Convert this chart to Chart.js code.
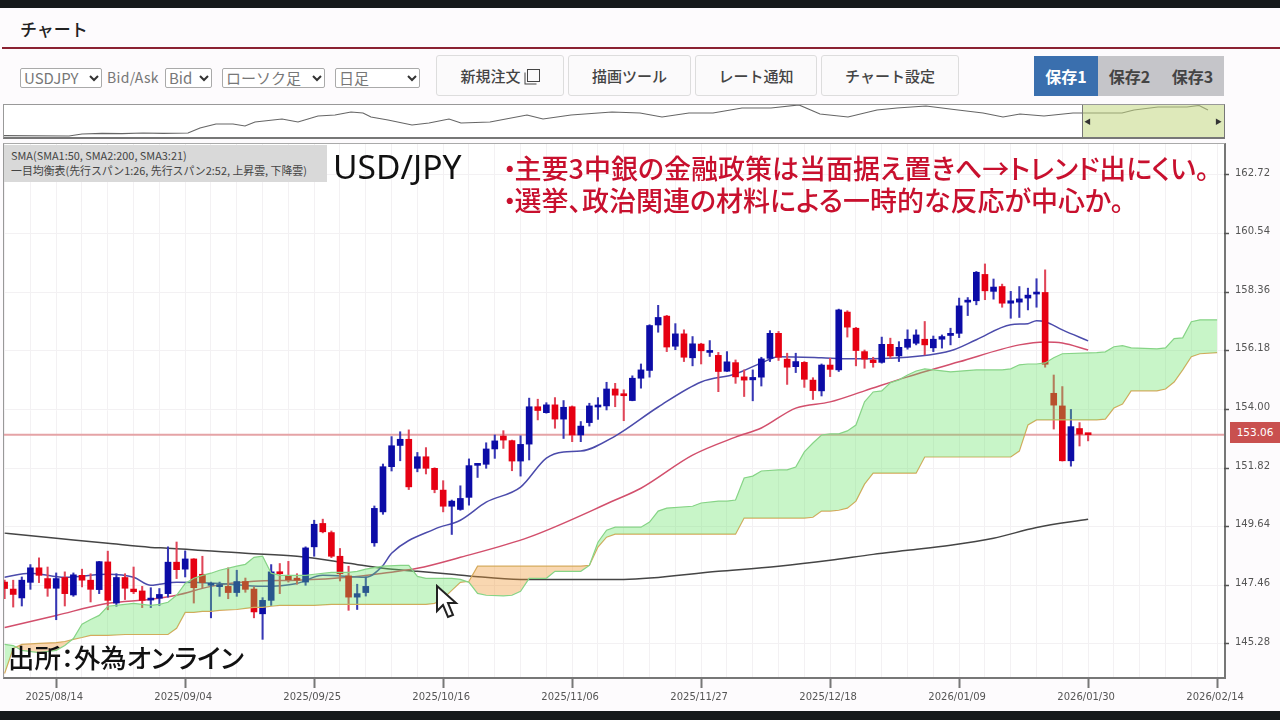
<!DOCTYPE html>
<html>
<head>
    <title>チャート USD/JPY</title>
    <script src="https://cdn.jsdelivr.net/npm/chart.js"></script>
    <style>
        html, body {
            margin: 0;
            padding: 0;
            width: 1280px;
            height: 720px;
            overflow: hidden;
            background-color: #fdfbfd;
            font-family: "Noto Sans CJK JP", "Noto Sans", sans-serif;
        }
        .abs { position: absolute; }
        .topbar { left: 0; top: 0; width: 1280px; height: 8px; background-color: #16191b; }
        .bottombar { left: 0; top: 711px; width: 1280px; height: 9px; background-color: #16191b; }
        .heading { left: 20px; top: 17px; font-size: 17px; font-weight: 500; line-height: 24px; color: #222; }
        .rule { left: 2px; top: 47px; width: 1278px; height: 2px; background-color: #8b2232; }
        .sel {
            top: 68px;
            height: 18px;
            padding-left: 3px;
            box-sizing: content-box;
            font-size: 15px;
            line-height: 18px;
            color: #777;
            background-color: #fff;
            border: 1px solid #aaa;
            border-radius: 2px;
            white-space: nowrap;
        }
        .sel svg { position: absolute; top: 5px; }
        .bidask { left: 107px; top: 68px; font-size: 14px; line-height: 19px; letter-spacing: 0.3px; color: #777; }
        .btn {
            top: 55px;
            height: 39px;
            line-height: 39px;
            text-align: center;
            font-size: 15px;
            font-weight: 500;
            color: #444;
            background-color: #fbfafb;
            border: 1px solid #ddd;
            border-radius: 3px;
        }
        .icon {
            display: inline-block;
            width: 11px;
            height: 11px;
            margin-left: 6px;
            border: 1.5px solid #444;
            box-shadow: -2px 2px 0 -0.5px #fbfafb, -3px 3px 0 -0.5px #444;
        }
        .save {
            top: 56px;
            width: 63px;
            height: 40px;
            line-height: 40px;
            text-align: center;
            font-size: 16px;
            font-weight: 700;
            color: #444;
            background-color: #c5c5c9;
        }
        .save.on { width: 64px; color: #fff; background-color: #3a6fae; }
        .miniframe {
            left: 3px;
            top: 104px;
            width: 1220px;
            height: 32px;
            background-color: #fff;
            border-top: 1px solid #999;
            border-left: 1px solid #999;
            border-right: 1px solid #777;
            border-bottom: 2px solid #777;
        }
        .range {
            left: 1082px;
            top: 105px;
            width: 142px;
            height: 32px;
            background-color: rgba(195, 215, 130, 0.55);
            border-left: 1px solid #777;
            box-sizing: border-box;
            font-size: 7px;
            line-height: 32px;
            color: #333;
        }
        .range span { position: absolute; top: 0; }
        .frame {
            left: 3px;
            top: 143px;
            width: 1220px;
            height: 533px;
            background-color: #fff;
            border-top: 1px solid #aaa;
            border-left: 1px solid #999;
            border-right: 2px solid #777;
            border-bottom: 2px solid #777;
        }
        canvas { position: absolute; }
        .legendbox {
            left: 4px;
            top: 145px;
            width: 323px;
            height: 37px;
            background-color: #d9d9d9;
            color: #444;
            font-size: 10.9px;
            line-height: 15px;
            padding-top: 3px;
            box-sizing: border-box;
        }
        .legendbox div { padding-left: 7px; white-space: nowrap; }
        .pair { left: 333px; top: 143px; font-family: "Noto Sans", sans-serif; font-size: 33.6px; line-height: 46px; color: #111; }
        .note {
            left: 503px;
            font-size: 27px;
            font-weight: 500;
            line-height: 32px;
            color: #c8102e;
            white-space: nowrap;
            font-feature-settings: "palt";
        }
        .source {
            left: 8px;
            top: 640px;
            font-size: 26.4px;
            font-weight: 500;
            line-height: 34px;
            color: #111;
            white-space: nowrap;
            font-feature-settings: "palt";
        }
        .badge {
            left: 1230px;
            top: 422px;
            width: 50px;
            height: 21px;
            line-height: 21px;
            text-align: center;
            font-family: "DejaVu Sans", sans-serif;
            font-size: 10.5px;
            color: #fff;
            background-color: #c9504f;
        }
    </style>
</head>
<body>
    <div class="abs topbar"></div>
    <div class="abs heading">チャート</div>
    <div class="abs rule"></div>

    <div class="abs sel" style="left:20px;width:77px">USDJPY<svg style="left:68px" width="10" height="8"><polyline points="1,2 5,6 9,2" fill="none" stroke="#333" stroke-width="2"></polyline></svg></div>
    <div class="abs bidask">Bid/Ask</div>
    <div class="abs sel" style="left:165px;width:42px">Bid<svg style="left:33px" width="10" height="8"><polyline points="1,2 5,6 9,2" fill="none" stroke="#333" stroke-width="2"></polyline></svg></div>
    <div class="abs sel" style="left:222px;width:98px">ローソク足<svg style="left:89px" width="10" height="8"><polyline points="1,2 5,6 9,2" fill="none" stroke="#333" stroke-width="2"></polyline></svg></div>
    <div class="abs sel" style="left:335px;width:80px">日足<svg style="left:71px" width="10" height="8"><polyline points="1,2 5,6 9,2" fill="none" stroke="#333" stroke-width="2"></polyline></svg></div>

    <div class="abs btn" style="left:436px;width:126px">新規注文<span class="icon"></span></div>
    <div class="abs btn" style="left:568px;width:121px">描画ツール</div>
    <div class="abs btn" style="left:695px;width:120px">レート通知</div>
    <div class="abs btn" style="left:821px;width:136px">チャート設定</div>

    <div class="abs save on" style="left:1034px">保存1</div>
    <div class="abs save" style="left:1098px">保存2</div>
    <div class="abs save" style="left:1161px">保存3</div>

    <div class="abs miniframe"></div>
    <canvas id="miniChart" width="1220" height="32" style="left:4px;top:105px"></canvas>
    <div class="abs range"><span style="left:1px">◀</span><span style="right:2px">▶</span></div>

    <div class="abs frame"></div>
    <canvas id="mainChart" width="1276" height="559" style="left:4px;top:144px"></canvas>

    <div class="abs legendbox">
        <div>SMA(SMA1:50, SMA2:200, SMA3:21)</div>
        <div>一目均衡表(先行スパン1:26, 先行スパン2:52, 上昇雲, 下降雲)</div>
    </div>
    <div class="abs pair">USD/JPY</div>
    <div class="abs note" style="top:152px"><span style="letter-spacing:-2px">・</span>主要3中銀の金融政策は当面据え置きへ→トレンド出にくい。</div>
    <div class="abs note" style="top:184px"><span style="letter-spacing:-2px">・</span>選挙、政治関連の材料による一時的な反応が中心か。</div>
    <div class="abs source">出所：外為オンライン</div>
    <div class="abs badge">153.06</div>

    <svg class="abs" style="left:434px;top:584px" width="26" height="36">
        <polygon points="3,2 3,27 9,21 14,33 19,31 14,19 22,19" fill="#fff" stroke="#222" stroke-width="2"></polygon>
    </svg>

    <div class="abs bottombar"></div>

    <script>
        // Daily candles, one entry per bar, oldest first
        const opens = [
            147.58, 147.32, 146.99, 147.57, 148.11, 147.71, 147.35, 147.75, 147.10, 147.83,
            147.65, 147.30, 148.33, 146.80, 147.75, 147.32, 147.25, 146.91, 146.98, 147.15,
            148.32, 148.06, 148.44, 147.87, 147.46, 147.41, 147.42, 147.19, 147.60, 147.32,
            146.40, 146.90, 147.93, 147.83, 147.68, 147.58, 148.89, 149.76, 149.42, 148.54,
            147.81, 147.02, 147.19, 149.04, 150.19, 151.87, 152.66, 152.89, 151.81, 152.24,
            151.81, 151.00, 150.40, 150.28, 150.73, 151.92, 151.96, 152.53, 153.01, 152.84,
            152.08, 152.71, 154.10, 153.88, 154.17, 153.64, 154.10, 153.05, 153.51, 154.09,
            154.13, 154.76, 154.55, 154.33, 155.16, 155.45, 157.14, 157.47, 156.35, 156.81,
            155.92, 156.43, 156.12, 156.01, 155.42, 155.74, 155.21, 155.10, 155.20, 155.90,
            156.83, 155.87, 155.59, 155.75, 155.09, 154.69, 155.65, 155.47, 157.62, 157.02,
            156.15, 155.84, 155.75, 156.42, 155.99, 156.31, 156.46, 156.61, 156.29, 156.61,
            156.75, 156.83, 157.99, 158.04, 159.02, 158.39, 158.57, 157.95, 157.99, 158.14,
            158.29, 158.35, 154.60, 154.13, 152.09, 153.29, 153.08
        ];
        const highs = [
            147.65, 147.65, 147.77, 148.23, 148.48, 148.14, 147.92, 147.96, 147.92, 148.06,
            147.89, 148.35, 148.73, 147.89, 147.89, 148.14, 147.42, 147.37, 147.34, 148.89,
            149.07, 148.74, 148.45, 148.54, 147.58, 147.58, 148.11, 148.02, 147.73, 147.40,
            147.00, 148.23, 148.27, 148.35, 147.89, 148.89, 149.88, 149.92, 149.48, 148.83,
            148.17, 147.50, 147.77, 150.41, 151.97, 152.99, 153.17, 153.24, 152.40, 152.58,
            151.83, 151.35, 150.63, 151.16, 152.16, 151.99, 152.76, 153.05, 153.21, 152.86,
            153.02, 154.42, 154.38, 154.25, 154.44, 154.33, 154.13, 153.55, 154.23, 154.44,
            155.01, 154.97, 154.73, 155.25, 155.69, 157.15, 157.87, 157.50, 157.19, 156.96,
            156.71, 156.46, 156.56, 156.12, 156.15, 155.84, 155.47, 155.47, 155.94, 156.93,
            156.90, 156.09, 156.09, 155.78, 155.18, 155.69, 155.90, 157.73, 157.67, 157.05,
            156.21, 155.94, 156.69, 156.65, 156.52, 156.96, 156.96, 157.27, 156.73, 156.77,
            157.02, 158.14, 158.16, 159.13, 159.41, 158.85, 158.66, 158.39, 158.57, 158.51,
            158.86, 159.19, 155.28, 154.85, 154.00, 153.51, 153.09
        ];
        const lows = [
            146.96, 146.65, 146.69, 147.31, 147.56, 147.05, 146.18, 146.69, 147.05, 147.40,
            146.84, 147.15, 146.55, 146.68, 146.93, 147.15, 146.63, 146.63, 146.71, 147.02,
            147.71, 147.77, 146.80, 147.37, 146.25, 147.05, 146.96, 147.05, 147.20, 146.25,
            145.45, 146.71, 147.15, 147.58, 147.50, 147.46, 148.54, 149.41, 148.49, 147.62,
            146.53, 146.56, 147.06, 148.91, 150.10, 151.71, 152.09, 151.02, 151.68, 151.60,
            150.90, 150.19, 149.35, 150.25, 150.44, 151.47, 151.81, 152.18, 152.55, 151.72,
            151.52, 152.12, 153.61, 153.86, 153.30, 152.92, 152.80, 152.80, 153.38, 153.63,
            153.98, 154.10, 153.58, 154.32, 154.79, 155.20, 156.87, 156.15, 156.22, 155.78,
            155.62, 155.69, 155.97, 154.66, 155.41, 154.97, 154.48, 154.32, 154.87, 155.78,
            155.82, 154.93, 155.37, 154.82, 154.37, 154.50, 155.22, 155.41, 156.69, 155.62,
            155.53, 155.57, 155.72, 155.90, 155.78, 156.24, 156.40, 156.03, 156.15, 156.28,
            156.40, 156.67, 157.49, 157.89, 158.08, 158.10, 157.80, 157.39, 157.42, 157.70,
            157.80, 155.57, 153.27, 152.08, 151.89, 152.64, 152.83
        ];
        const closes = [
            147.34, 147.12, 147.65, 148.11, 147.83, 147.35, 147.71, 147.15, 147.85, 147.65,
            147.31, 148.34, 146.90, 147.75, 147.35, 147.22, 146.90, 146.98, 147.12, 148.32,
            148.04, 148.44, 147.37, 147.56, 147.50, 147.45, 147.19, 147.60, 147.31, 146.47,
            146.90, 147.96, 147.89, 147.67, 147.65, 148.85, 149.73, 149.45, 148.54, 147.89,
            147.02, 147.15, 147.42, 150.32, 151.87, 152.65, 152.89, 151.12, 152.24, 151.81,
            151.02, 150.40, 150.59, 150.69, 151.91, 151.96, 152.53, 152.83, 152.86, 152.08,
            152.70, 154.10, 153.96, 154.17, 153.64, 154.08, 153.05, 153.38, 154.13, 154.13,
            154.76, 154.53, 154.51, 155.16, 155.47, 157.12, 157.42, 156.32, 156.81, 155.94,
            156.44, 156.18, 156.15, 155.41, 155.77, 155.21, 155.09, 155.19, 155.88, 156.83,
            155.94, 155.57, 155.78, 155.12, 154.70, 155.65, 155.49, 157.70, 157.06, 156.19,
            155.87, 155.74, 156.42, 155.99, 156.31, 156.61, 156.77, 156.40, 156.61, 156.71,
            156.83, 157.85, 158.05, 159.10, 158.41, 158.55, 157.95, 158.04, 158.11, 158.25,
            158.35, 155.68, 154.16, 152.09, 153.36, 153.08, 153.06
        ];

        // Ichimoku cloud, read at the bars listed in cloudBars
        const cloudBars = [
            0, 1, 2, 4, 6, 7, 8, 9, 10, 11,
            12, 14, 15, 17, 18, 19, 20, 21, 22, 23,
            24, 25, 27, 28, 29, 30, 31, 32, 35, 36,
            38, 40, 41, 42, 44, 46, 47, 48, 49, 50,
            51, 52, 53, 54, 55, 56, 58, 59, 60, 61,
            63, 64, 67, 68, 69, 70, 71, 74, 75, 76,
            77, 80, 81, 83, 84, 85, 86, 87, 88, 90,
            91, 92, 93, 94, 95, 96, 97, 98, 99, 100,
            101, 102, 103, 104, 105, 106, 107, 110, 113, 116,
            117, 118, 119, 120, 121, 122, 123, 127, 128, 129,
            130, 131, 134, 135, 136, 137, 138, 139, 141
        ];
        const spanA = [
            145.26, 145.22, 145.04, 144.96, 145.04, 145.22, 145.48, 146.01, 146.19, 146.34,
            146.68, 146.75, 146.79, 146.71, 146.75, 146.83, 147.09, 147.53, 147.72, 147.83,
            147.91, 148.02, 148.17, 148.24, 148.50, 148.54, 147.91, 147.83, 147.83, 147.87,
            147.94, 147.94, 147.98, 148.06, 148.17, 148.20, 148.20, 147.79, 147.72, 147.72,
            147.72, 147.72, 147.68, 147.57, 147.16, 147.09, 147.07, 147.09, 147.24, 147.72,
            147.72, 147.98, 147.98, 148.20, 149.06, 149.51, 149.62, 149.62, 149.81, 150.22,
            150.33, 150.40, 150.52, 150.59, 150.59, 150.63, 151.45, 151.52, 151.71, 151.75,
            151.75, 151.86, 152.42, 152.75, 153.05, 153.09, 153.09, 153.20, 153.42, 154.28,
            154.65, 154.69, 154.99, 155.10, 155.28, 155.43, 155.51, 155.40, 155.47, 155.47,
            155.51, 155.66, 155.69, 155.69, 155.73, 155.92, 156.07, 156.11, 156.14, 156.33,
            156.37, 156.29, 156.25, 156.29, 156.63, 156.66, 157.26, 157.33, 157.33
        ];
        const spanB = [
            144.18, 145.11, 145.26, 145.30, 145.33, 145.37, 145.45, 145.52, 145.60, 145.60,
            145.60, 145.63, 145.63, 145.63, 145.63, 145.63, 145.86, 146.45, 146.45, 146.49,
            146.49, 146.53, 146.56, 146.60, 146.64, 146.64, 146.68, 146.71, 146.71, 146.71,
            146.75, 146.75, 146.75, 146.75, 146.75, 146.75, 146.75, 146.75, 146.75, 146.79,
            146.97, 147.27, 147.57, 147.61, 148.17, 148.17, 148.17, 148.17, 148.17, 148.17,
            148.17, 148.17, 148.17, 148.20, 148.88, 149.25, 149.36, 149.36, 149.36, 149.36,
            149.36, 149.36, 149.36, 149.36, 149.36, 149.36, 149.96, 149.96, 149.96, 149.96,
            149.96, 149.96, 149.96, 149.99, 150.22, 150.22, 150.25, 150.33, 150.59, 151.22,
            151.63, 151.63, 151.63, 151.63, 151.63, 151.63, 152.23, 152.23, 152.23, 152.23,
            152.23, 152.45, 153.42, 153.61, 153.61, 153.61, 153.61, 153.61, 153.64, 154.05,
            154.20, 154.69, 154.69, 154.76, 155.02, 155.47, 155.96, 156.07, 156.11
        ];

        // Moving averages
        const sma21Bars = [0, 3, 7, 12, 15, 17, 18, 20, 25, 30, 34, 37, 42, 44, 45, 50, 53, 56, 60, 63, 65, 67, 71, 76, 81, 85, 88, 90, 95, 98, 104, 110, 113, 117, 119, 120, 121, 123, 126];
        const sma21 = [147.76, 147.91, 147.76, 147.87, 147.76, 147.46, 147.50, 147.57, 147.53, 147.42, 147.53, 147.83, 147.76, 148.20, 148.65, 149.55, 149.88, 150.55, 151.11, 152.19, 152.42, 152.45, 153.01, 154.09, 155.02, 155.32, 155.73, 155.96, 155.92, 155.88, 155.92, 156.18, 156.59, 157.15, 157.19, 157.30, 157.26, 156.96, 156.55];
        const sma50Bars = [0, 6, 12, 17, 20, 24, 29, 34, 40, 44, 48, 53, 61, 71, 74, 80, 85, 88, 92, 96, 100, 105, 111, 118, 121, 123, 126];
        const sma50 = [145.89, 146.34, 146.79, 146.94, 147.09, 147.42, 147.61, 147.65, 147.76, 147.91, 148.09, 148.50, 149.25, 150.63, 151.07, 152.30, 152.97, 153.31, 154.05, 154.28, 154.69, 155.21, 155.77, 156.40, 156.51, 156.47, 156.21];
        const sma200Bars = [0, 6, 12, 17, 19, 28, 34, 40, 44, 48, 52, 54, 60, 68, 72, 83, 90, 96, 101, 105, 110, 115, 120, 126];
        const sma200 = [149.40, 149.21, 149.02, 148.87, 148.84, 148.65, 148.54, 148.28, 148.09, 147.98, 147.87, 147.81, 147.68, 147.68, 147.68, 147.98, 148.17, 148.39, 148.61, 148.76, 148.95, 149.21, 149.61, 149.92];

        const lastPrice = 153.06;

        // Axis ticks
        const priceTicks = [162.72, 160.54, 158.36, 156.18, 154.00, 151.82, 149.64, 147.46, 145.28];
        const dateTickBars = [6, 21, 36, 51, 66, 81, 96, 111, 126, 141];
        const dateTickLabels = [
            '2025/08/14', '2025/09/04', '2025/09/25', '2025/10/16', '2025/11/06',
            '2025/11/27', '2025/12/18', '2026/01/09', '2026/01/30', '2026/02/14'
        ];

        // Overview strip at the top, long history
        const miniBars = [
            0, 65, 78, 98, 118, 139, 159, 184, 196, 212, 229, 241, 251, 278, 294, 314, 331, 347, 359, 367,
            384, 408, 425, 445, 457, 486, 523, 539, 567, 608, 636, 658, 685, 709, 738, 767, 795, 816, 844, 873,
            893, 922, 954, 979, 999, 1016, 1040, 1069, 1093, 1118, 1130, 1154, 1183, 1195, 1204
        ];
        const miniPrices = [
            103.6, 103.0, 106.8, 107.8, 107.4, 108.7, 107.8, 108.7, 118.2, 125.8, 125.8, 122.0, 129.6, 135.3, 129.6, 141.0, 142.9, 148.6, 146.7, 139.1,
            133.4, 123.9, 127.7, 135.3, 127.7, 129.6, 142.9, 135.3, 142.9, 148.6, 146.7, 139.1, 146.7, 146.7, 156.2, 156.2, 161.9, 144.8, 139.1, 152.4,
            156.2, 160.0, 152.4, 146.7, 139.1, 144.8, 141.0, 146.7, 146.7, 146.7, 152.4, 158.1, 158.1, 161.0, 152.4
        ];

        const upColor = '#0c0ca6';
        const downColor = '#e60012';
        const upWick = '#3636b4';
        const downWick = '#e04558';

        function isUp(i) {
            return closes[i] >= opens[i];
        }

        function pairs(bars, values) {
            return bars.map((b, i) => ({x: b, y: values[i]}));
        }

        function smaLine(label, bars, values, color) {
            return {
                type: 'line',
                label: label,
                data: pairs(bars, values),
                borderColor: color,
                borderWidth: 1.5,
                cubicInterpolationMode: 'monotone',
                pointRadius: 0,
                fill: false,
                order: 4
            };
        }

        // every 3rd bar gets a faint grid line, every 15th a labelled tick
        const gridBars = [];
        for (let b = 0; b <= 141; b += 3) gridBars.push(b);

        const wickData = opens.map((o, i) => ({x: i, y: [lows[i], highs[i]]}));
        const bodyData = opens.map((o, i) => ({x: i, y: [o, closes[i]]}));

        new Chart(document.getElementById('mainChart'), {
            type: 'bar',
            data: {
                datasets: [
                    {
                        type: 'line',
                        label: '先行スパン1',
                        data: pairs(cloudBars, spanA),
                        borderColor: '#86d486',
                        borderWidth: 1.2,
                        pointRadius: 0,
                        fill: {target: 1, above: 'rgba(98, 226, 98, 0.35)', below: 'rgba(240, 150, 50, 0.38)'},
                        order: 1
                    },
                    {
                        type: 'line',
                        label: '先行スパン2',
                        data: pairs(cloudBars, spanB),
                        borderColor: '#d8aa62',
                        borderWidth: 1.2,
                        pointRadius: 0,
                        fill: false,
                        order: 1
                    },
                    {
                        label: '実体',
                        data: bodyData,
                        backgroundColor: opens.map((o, i) => isUp(i) ? upColor : downColor),
                        barThickness: 6,
                        minBarLength: 2,
                        grouped: false,
                        order: 2
                    },
                    {
                        label: 'ヒゲ',
                        data: wickData,
                        backgroundColor: opens.map((o, i) => isUp(i) ? upWick : downWick),
                        barThickness: 1.4,
                        grouped: false,
                        order: 3
                    },
                    smaLine('SMA3', sma21Bars, sma21, '#4b4bab'),
                    smaLine('SMA1', sma50Bars, sma50, '#d24f6c'),
                    smaLine('SMA2', sma200Bars, sma200, '#454545'),
                    {
                        type: 'line',
                        label: '現在値',
                        data: [{x: -1, y: lastPrice}, {x: 143, y: lastPrice}],
                        borderColor: '#e5a3a6',
                        borderWidth: 2,
                        pointRadius: 0,
                        fill: false,
                        order: 5
                    }
                ]
            },
            options: {
                responsive: false,
                animation: false,
                events: [],
                layout: {padding: 0},
                plugins: {
                    legend: {display: false},
                    tooltip: {enabled: false}
                },
                scales: {
                    x: {
                        type: 'linear',
                        min: -0.07,
                        max: 141.8,
                        offset: false,
                        afterBuildTicks: scale => {
                            scale.ticks = gridBars.map(b => ({value: b}));
                        },
                        afterFit: scale => {
                            scale.height = 26;
                            scale.paddingLeft = 0;
                            scale.paddingRight = 0;
                        },
                        border: {display: false},
                        grid: {
                            offset: false,
                            color: '#f3f1f3',
                            lineWidth: 1,
                            tickLength: 11,
                            tickWidth: 2,
                            tickColor: ctx => dateTickBars.includes(ctx.tick && ctx.tick.value) ? '#777' : 'rgba(0,0,0,0)'
                        },
                        ticks: {
                            autoSkip: false,
                            maxRotation: 0,
                            padding: 3,
                            labelOffset: -2,
                            color: '#555',
                            font: {family: '"DejaVu Sans"', size: 10},
                            callback: value => {
                                const k = dateTickBars.indexOf(value);
                                return k >= 0 ? dateTickLabels[k] : '';
                            }
                        }
                    },
                    y: {
                        position: 'right',
                        min: 144.05,
                        max: 163.87,
                        afterBuildTicks: scale => {
                            scale.ticks = priceTicks.map(v => ({value: v}));
                        },
                        afterFit: scale => {
                            scale.width = 56;
                            scale.paddingTop = 0;
                            scale.paddingBottom = 0;
                        },
                        border: {display: false},
                        grid: {
                            color: '#f3f1f3',
                            lineWidth: 1,
                            tickLength: 5,
                            tickWidth: 1.5,
                            tickColor: '#555'
                        },
                        ticks: {
                            padding: 6,
                            labelOffset: -2,
                            color: '#555',
                            font: {family: '"DejaVu Sans"', size: 10},
                            callback: value => value.toFixed(2)
                        }
                    }
                }
            }
        });

        new Chart(document.getElementById('miniChart'), {
            type: 'line',
            data: {
                datasets: [{
                    label: '全期間',
                    data: pairs(miniBars, miniPrices),
                    borderColor: '#666',
                    borderWidth: 1.2,
                    pointRadius: 0,
                    fill: false
                }]
            },
            options: {
                responsive: false,
                animation: false,
                events: [],
                layout: {padding: 0},
                plugins: {
                    legend: {display: false},
                    tooltip: {enabled: false}
                },
                scales: {
                    x: {type: 'linear', min: 0, max: 1220, display: false},
                    y: {min: 101.1, max: 161.9, display: false}
                }
            }
        });
    </script>
</body>
</html>
